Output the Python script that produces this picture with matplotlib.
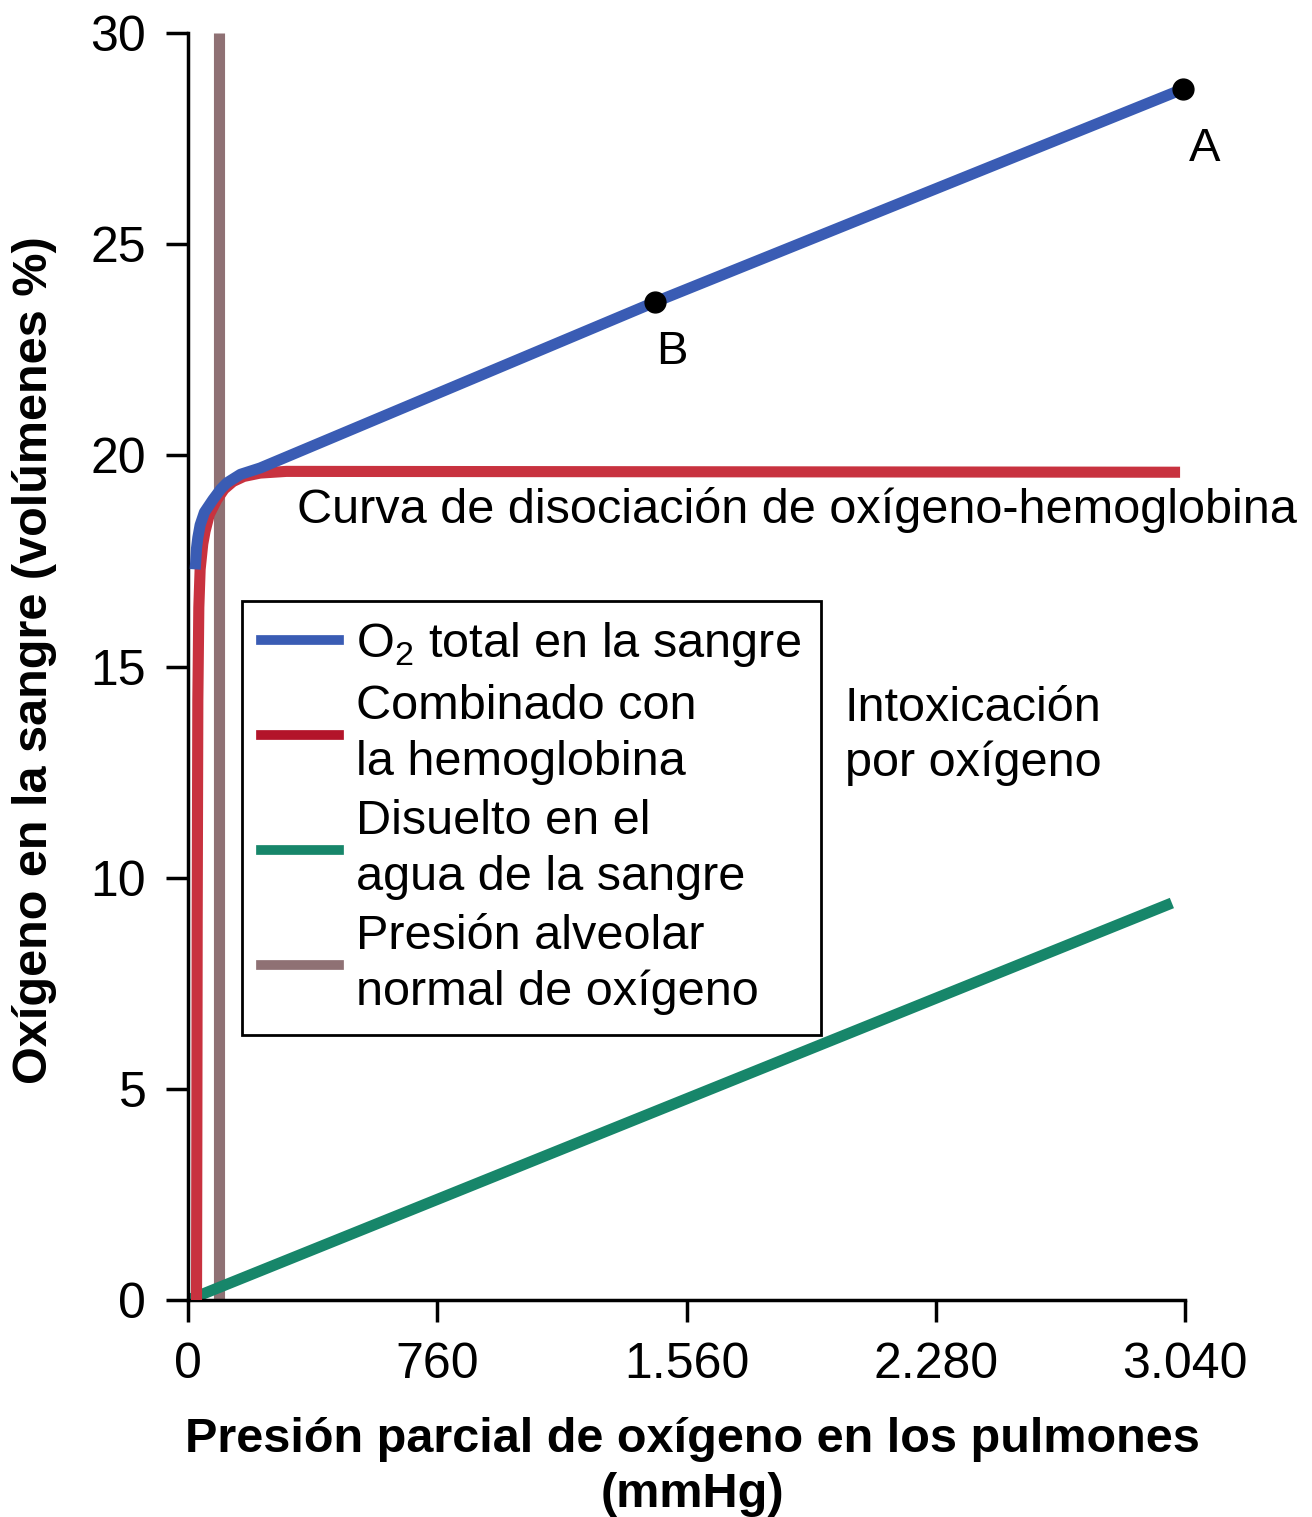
import matplotlib
matplotlib.use("Agg")
from matplotlib import pyplot as plt

plt.rcParams['font.family'] = ['Liberation Sans', 'DejaVu Sans']
plt.rcParams['mathtext.fontset'] = 'custom'
plt.rcParams['mathtext.rm'] = 'Liberation Sans'

# datos (mmHg, volumenes %)
po2_total = [22, 26, 30, 37, 50, 76, 100, 119, 160, 220, 1424, 3033]
o2_total = [17.3, 17.8, 18.05, 18.35, 18.65, 18.95, 19.2, 19.35, 19.55, 19.7, 23.63, 28.67]

po2_hb = [26, 27, 28, 30, 33, 37, 45, 52, 65, 88, 110, 137, 170, 220, 300, 3025]
o2_hb = [0, 4.0, 9.0, 14.2, 16.4, 17.3, 17.9, 18.2, 18.6, 18.95, 19.2, 19.38, 19.5, 19.58, 19.62, 19.6]

po2_dis = [0, 3000]
o2_dis = [0, 9.4]

po2_alveolar = [95, 95]
alveolar_y = [0, 30]

puntos = ['A', 'B']
puntos_x = [3033, 1424]
puntos_y = [28.67, 23.63]

xticks = [0, 760, 1520, 2280, 3040]
xtick_labels = ['0', '760', '1.560', '2.280', '3.040']
yticks = [0, 5, 10, 15, 20, 25, 30]

c_blue = '#3a5cb4'
c_red = '#c8323f'
c_red_leg = '#b3142a'
c_green = '#17866a'
c_brown = '#8f7174'

fig = plt.figure(figsize=(13.12, 15.17), dpi=100)
ax = fig.add_axes([188/1312, 1-1300/1517, (1185-188)/1312, (1300-33)/1517])

lw = 8
ax.plot(po2_alveolar, alveolar_y, color=c_brown, lw=lw, solid_capstyle='butt', zorder=1, clip_on=False)
ax.plot(po2_dis, o2_dis, color=c_green, lw=lw, solid_capstyle='butt', zorder=2)
ax.plot(po2_hb, o2_hb, color=c_red, lw=lw, solid_capstyle='butt', solid_joinstyle='round', zorder=3)
ax.plot(po2_total, o2_total, color=c_blue, lw=lw, solid_capstyle='butt', solid_joinstyle='round', zorder=4)
ax.plot(puntos_x, puntos_y, 'o', color='black', ms=15, zorder=5, clip_on=False)

ax.text(3100, 27.25, puntos[0], fontsize=34, ha='center', va='center')
ax.text(1476, 22.45, puntos[1], fontsize=34, ha='center', va='center')

ax.text(332, 18.7, 'Curva de disociación de oxígeno-hemoglobina', fontsize=35,
        ha='left', va='center', clip_on=False)
ax.text(2003, 13.35, 'Intoxicación\npor oxígeno', fontsize=35, ha='left', va='center',
        linespacing=1.28)

ax.set_xlim(0, 3040)
ax.set_ylim(0, 30)
ax.set_xticks(xticks)
ax.set_xticklabels(xtick_labels)
ax.set_yticks(yticks)
for s in ['top', 'right']:
    ax.spines[s].set_visible(False)
for s in ['left', 'bottom']:
    ax.spines[s].set_linewidth(2.5)
ax.tick_params(direction='out', length=16, width=2.5, labelsize=36, pad=14)

# leyenda a mano con los mismos colores
handles = [plt.Line2D([], [], color=c, lw=7) for c in [c_blue, c_red_leg, c_green, c_brown]]
labels = [r'O$_\mathrm{2}$ total en la sangre', 'Combinado con\nla hemoglobina',
          'Disuelto en el\nagua de la sangre', 'Presión alveolar\nnormal de oxígeno']
leg = ax.legend(handles, labels, loc='upper left', bbox_to_anchor=(242/1312, 1-601/1517),
                bbox_transform=fig.transFigure, borderaxespad=0, fontsize=35,
                fancybox=False, framealpha=1, edgecolor='black', handlelength=1.6,
                handletextpad=0.35, labelspacing=0.3, borderpad=0.4)
leg.get_frame().set_linewidth(2)
for t in leg.get_texts():
    t.set_linespacing(1.3)

fig.text(35/1312, 1-660/1517, 'Oxígeno en la sangre (volúmenes %)', rotation=90,
         fontsize=35, fontweight='bold', ha='center', va='center')
fig.text(692/1312, 1-1467/1517, 'Presión parcial de oxígeno en los pulmones\n(mmHg)',
         fontsize=35, fontweight='bold', ha='center', va='center', multialignment='center',
         linespacing=1.3)

fig.savefig('out.png', dpi=100)
